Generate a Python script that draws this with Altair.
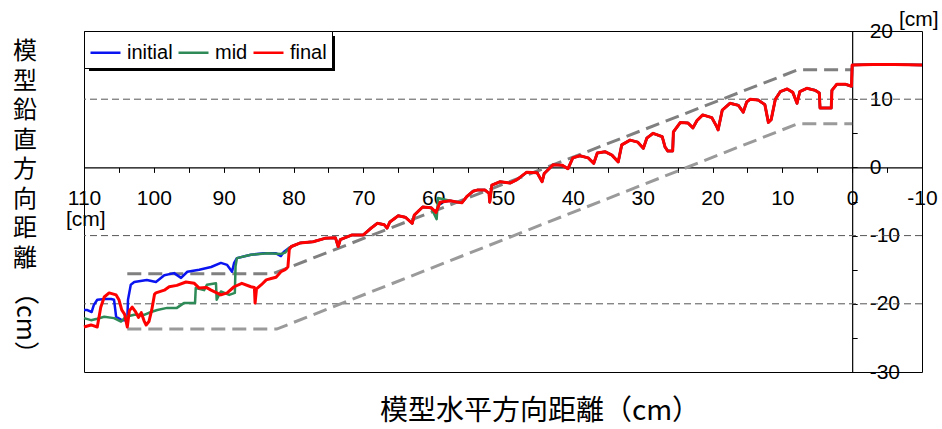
import altair as alt
import pandas as pd

# ---------------- data ----------------
# shared right-hand part of the profile (identical for all three states)
tail_x = [80.3, 79.1, 77.2, 75.5, 74.0, 73.6, 73.3, 71.6, 70.0, 69.0, 68.0, 67.0, 66.6, 66.2,
          65.0, 64.0, 63.0, 62.7, 61.5, 60.3, 59.6, 59.0, 57.6, 55.9, 55.2, 54.3, 53.6, 52.6,
          52.0, 51.9, 51.6, 50.4, 49.0, 48.0, 46.6, 45.1, 44.4, 44.1, 42.8, 41.5, 40.7, 40.0,
          39.0, 37.8, 37.0, 36.5, 35.4, 34.4, 33.5, 33.0, 31.8, 30.7, 29.9, 29.4, 28.5, 27.2,
          26.8, 26.4, 25.7, 25.6, 24.6, 23.5, 22.8, 22.2, 21.4, 20.1, 19.4, 19.2, 18.6, 17.5,
          16.3, 15.6, 15.1, 14.6, 13.5, 12.5, 12.0, 11.6, 11.0, 10.3, 9.3, 8.5, 7.9, 7.5, 6.5,
          5.3, 4.7, 4.6, 3.0, 2.9, 2.2, 1.0, 0.1, 0.0, -3.0, -6.0, -10.0]
tail_y = [-11.6, -11.1, -10.9, -10.4, -10.3, -11.6, -10.6, -9.9, -9.9, -9.0, -8.2, -8.4, -8.9, -8.0,
          -7.1, -7.3, -8.2, -7.0, -5.8, -5.9, -6.6, -5.1, -4.9, -5.2, -4.3, -3.5, -3.3, -3.3,
          -3.8, -5.1, -2.6, -2.1, -2.3, -1.8, -0.7, -0.8, -2.1, -0.9, 0.4, 0.3, -0.2, 1.4,
          1.7, 1.4, 0.6, 2.1, 2.3, 1.8, 0.8, 3.3, 4.0, 3.7, 2.8, 4.3, 5.0, 4.5,
          3.0, 2.4, 2.4, 5.2, 6.6, 6.5, 5.8, 6.9, 7.7, 7.3, 6.0, 5.5, 8.4, 9.4,
          9.1, 8.1, 9.6, 10.0, 9.9, 9.2, 6.6, 7.0, 10.0, 11.1, 11.5, 11.0, 9.4, 11.1, 11.6,
          11.3, 10.9, 8.7, 8.7, 11.3, 12.2, 12.2, 11.9, 15.0, 15.1, 15.1, 15.0]

final_head_x = [110.0, 109.0, 108.1, 107.6, 107.1, 106.4, 105.4, 105.0, 104.6, 104.2, 103.8, 103.5,
                103.1, 102.6, 102.2, 101.8, 101.4, 101.1, 100.7, 100.3, 99.9, 99.7, 98.5, 97.8,
                96.7, 95.4, 94.2, 93.5, 92.5, 91.8, 90.4, 89.5, 88.5, 87.4, 86.1, 85.6, 85.5,
                85.3, 84.6, 83.9, 83.2, 82.5, 81.8, 81.2, 80.8, 80.6]
final_head_y = [-23.4, -23.1, -23.4, -20.5, -19.0, -18.4, -18.7, -19.4, -20.9, -21.5, -23.4, -21.0,
                -20.5, -21.2, -22.0, -21.3, -22.5, -23.1, -22.6, -20.9, -18.6, -18.4, -18.0, -17.5,
                -17.3, -16.8, -17.0, -17.7, -17.6, -18.0, -18.7, -18.4, -17.5, -17.0, -17.5, -17.6, -19.9,
                -17.8, -17.2, -16.5, -16.3, -16.1, -15.3, -15.0, -14.6, -12.0]

initial_head_x = [110.0, 109.6, 108.9, 108.6, 108.1, 107.0, 106.1, 105.7, 105.4, 104.6, 103.8, 103.7,
                  103.3, 102.8, 101.0, 99.7, 98.5, 97.1, 96.1, 95.2, 93.5, 91.8, 90.4, 89.5, 88.8,
                  88.5, 88.1, 86.1, 84.2, 82.5, 81.8, 81.4, 80.6]
initial_head_y = [-20.9, -20.9, -21.2, -20.2, -19.4, -19.3, -19.3, -19.4, -21.9, -22.4, -22.4, -19.4,
                  -17.2, -16.8, -16.5, -16.8, -15.8, -15.5, -16.2, -15.3, -15.0, -14.6, -14.0, -14.3, -15.3,
                  -14.0, -13.3, -12.8, -12.6, -12.6, -13.0, -12.4, -11.8]

mid_head_x = [110.0, 109.0, 108.1, 107.1, 105.7, 104.7, 104.0, 102.8, 101.3, 100.4, 99.5, 98.1,
              96.7, 95.7, 94.1, 94.0, 92.8, 92.4, 91.1, 91.0, 90.4, 89.2, 88.4, 88.3, 88.1, 86.1,
              83.7, 81.8, 81.2, 80.6]
mid_head_y = [-22.1, -22.4, -22.2, -21.9, -22.1, -22.6, -21.9, -21.6, -21.6, -21.2, -20.9, -20.6,
              -20.6, -19.9, -19.9, -17.7, -18.0, -17.2, -17.0, -19.4, -18.2, -18.7, -18.4, -14.5, -13.3, -12.8,
              -12.6, -12.7, -12.5, -11.8]
# local difference of "mid" near x = 60
mid_dip_x = [59.5, 59.3]
mid_dip_y = [-7.6, -4.5]

# dashed guide lines (slope outline)
upper_x = [103.8, 83.0, 7.8, 0.0]
upper_y = [-15.6, -15.6, 14.3, 14.3]
lower_x = [103.8, 82.4, 7.8, 0.0]
lower_y = [-23.7, -23.7, 6.4, 6.4]

grid_y = [10, -10, -20]
series_names = ["initial", "mid", "final"]
series_colors = ["#0a14f0", "#2e8b57", "#ff0000"]

# ---------------- build tables ----------------
rows = []
def add(name, xs, ys):
    for i, (a, b) in enumerate(zip(xs, ys)):
        rows.append({"s": name, "x": a, "y": b, "i": i})

add("initial", initial_head_x + tail_x, initial_head_y + tail_y)
k = tail_x.index(59.6)
mid_tx = tail_x[:k] + mid_dip_x + tail_x[k + 2:]
mid_ty = tail_y[:k] + mid_dip_y + tail_y[k + 2:]
add("mid", mid_head_x + mid_tx, mid_head_y + mid_ty)
add("final", final_head_x + tail_x, final_head_y + tail_y)
df = pd.DataFrame(rows)

guide_rows = []
for i, (a, b) in enumerate(zip(upper_x, upper_y)):
    guide_rows.append({"g": "upper", "x": a, "y": b, "i": i})
for i, (a, b) in enumerate(zip(lower_x, lower_y)):
    guide_rows.append({"g": "lower", "x": a, "y": b, "i": i})
gdf = pd.DataFrame(guide_rows)
griddf = pd.DataFrame({"y": grid_y})

W, H = 838, 341
x_zero_px = 110 / 120 * W
y_zero_px = 20 / 50 * H

FONT = "Liberation Sans"
CJK = "Noto Sans CJK JP"

xscale = alt.Scale(domain=[-10, 110], reverse=True, nice=False, zero=False)
yscale = alt.Scale(domain=[-30, 20], nice=False, zero=False)

xaxis = alt.Axis(orient="bottom", offset=-(H - y_zero_px), values=list(range(-10, 111, 5)),
                 labelExpr="datum.value % 10 === 0 ? '' + datum.value : ''",
                 tickSize=5, tickColor="black", domainColor="black", domainWidth=1.2,
                 labelFont=FONT, labelFontSize=21, labelColor="black", labelPadding=15,
                 labelOverlap=False, labelFlush=False, grid=False, title=None)
yaxis = alt.Axis(orient="right", offset=-(W - x_zero_px), values=list(range(-30, 21, 5)),
                 labelExpr="datum.value % 10 === 0 ? '' + datum.value : ''",
                 tickSize=5, tickColor="black", domainColor="black", domainWidth=1.2,
                 labelFont=FONT, labelFontSize=21, labelColor="black", labelPadding=12,
                 labelAlign="left", labelBaseline="middle",
                 labelOverlap=False, labelFlush=False, grid=False, title=None)

X = alt.X("x:Q", scale=xscale, axis=xaxis)
Y = alt.Y("y:Q", scale=yscale, axis=yaxis)

grid = alt.Chart(griddf).mark_rule(color="#555555", strokeWidth=1, strokeDash=[7, 4]).encode(
    y=alt.Y("y:Q", scale=yscale, axis=yaxis))

upper = alt.Chart(gdf).transform_filter("datum.g == 'upper'").mark_line(
    color="#808080", strokeWidth=3, strokeDash=[14, 7]).encode(x=X, y=Y, order="i:Q")
lower = alt.Chart(gdf).transform_filter("datum.g == 'lower'").mark_line(
    color="#9a9a9a", strokeWidth=3, strokeDash=[14, 7]).encode(x=X, y=Y, order="i:Q")

color = alt.Color("s:N", scale=alt.Scale(domain=series_names, range=series_colors),
                  legend=alt.Legend(title=None, orient="top-left", offset=0, direction="horizontal",
                                    symbolType="stroke", symbolSize=900, symbolStrokeWidth=2.5,
                                    labelFont=FONT, labelFontSize=20, labelColor="black",
                                    labelOffset=5, columnPadding=0, padding=5,
                                    strokeColor="black", fillColor="white"))

def series_layer(name, width):
    return alt.Chart(df).transform_filter(f"datum.s == '{name}'").mark_line(
        strokeWidth=width, strokeJoin="round").encode(x=X, y=Y, order="i:Q", color=color)

l_init = series_layer("initial", 2.5)
l_mid = series_layer("mid", 2.5)
l_fin = series_layer("final", 3)

one = pd.DataFrame({"k": [0]})
shadow = alt.Chart(one).mark_rect(color="black").encode(
    x=alt.value(5), x2=alt.value(251), y=alt.value(5), y2=alt.value(40))

ytitle = alt.Chart(one).mark_text(font=CJK, fontSize=24, lineBreak="\n", lineHeight=29.5,
                                  align="center", baseline="top", color="black").encode(
    x=alt.value(-59), y=alt.value(9), text=alt.value("模\n型\n鉛\n直\n方\n向\n距\n離"))
ytitle2 = alt.Chart(one).mark_text(font=CJK, fontSize=25, angle=90, align="center",
                                   baseline="middle", color="black").encode(
    x=alt.value(-59), y=alt.value(292), text=alt.value("（cm）"))
xtitle = alt.Chart(one).mark_text(font=CJK, fontSize=28, align="center", baseline="middle",
                                  color="black").encode(
    x=alt.value(456), y=alt.value(381), text=alt.value("模型水平方向距離（cm）"))
unit1 = alt.Chart(one).mark_text(font=FONT, fontSize=21, align="left", baseline="middle",
                                 color="black").encode(
    x=alt.value(815), y=alt.value(-11), text=alt.value("[cm]"))
unit2 = alt.Chart(one).mark_text(font=FONT, fontSize=21, align="left", baseline="middle",
                                 color="black").encode(
    x=alt.value(-18), y=alt.value(189), text=alt.value("[cm]"))

chart = alt.layer(grid, upper, lower, l_init, l_mid, l_fin, shadow,
                  ytitle, ytitle2, xtitle, unit1, unit2).properties(
    width=W, height=H,
    autosize=alt.AutoSizeParams(type="none"),
    padding={"left": 84, "top": 31, "right": 20, "bottom": 57},
    background="white",
).configure_view(stroke="black", strokeWidth=1)

chart.save("out.html", embed_options={"renderer": "svg", "actions": False})
